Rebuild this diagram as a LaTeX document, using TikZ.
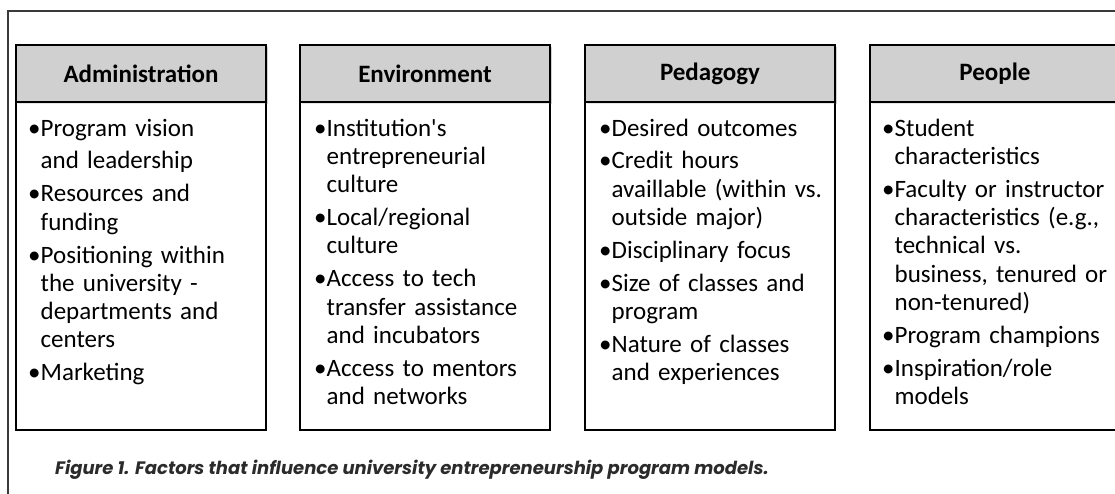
\documentclass[tikz,border=0pt]{standalone}
\usepackage{fontspec}
\setmainfont{Carlito}
\newfontfamily\capfont{Poppins}
\usetikzlibrary{positioning,shadows}

\definecolor{hdrgray}{HTML}{D0D0D0}
\definecolor{capgray}{HTML}{2B2B2B}
\definecolor{framegray}{HTML}{3A3A3A}

% one bullet item, later lines hang under the text
\newlength{\bulw}
\newcommand{\bul}[1]{\par\hangindent=\bulw\hangafter=1\noindent\textbullet#1}
\newcommand{\cont}[1]{\par\noindent\hspace*{\bulw}#1}

\begin{document}
\begin{tikzpicture}[x=1pt,y=1pt,
    hdrbox/.style={draw=black,line width=1.4pt,fill=hdrgray,outer sep=0pt,
        minimum width=250pt,minimum height=57pt,
        font=\fontsize{25}{30}\selectfont\bfseries,
        drop shadow={opacity=0.2,shadow xshift=2pt,shadow yshift=-2pt}},
    bodybox/.style={draw=black,line width=1.4pt,fill=white,outer sep=0pt,
        minimum width=250pt,minimum height=328pt},
    itemtext/.style={text width=234pt,align=left,inner sep=0pt,
        font=\fontsize{25}{28.3}\selectfont,
        execute at begin node={\setlength{\parskip}{4.6pt}\settowidth{\bulw}{\textbullet}}},
    caption/.style={font=\capfont\fontsize{18}{20}\selectfont\bfseries\itshape,
        text=capgray,inner sep=0pt}]
    \useasboundingbox (0,0) rectangle (1115,494);
    \clip (0,0) rectangle (1115,494);
    \fill[white] (0,0) rectangle (1115,494);
    \draw[framegray,line width=1.3pt] (8,-10) -- (8,483) -- (1130,483);

    \foreach \nm/\xx/\ttl in {admin/16/Administration,env/300/Environment,ped/585/Pedagogy,ppl/870/People} {
        \node[hdrbox,anchor=north west] (\nm H) at (\xx,449) {\ttl};
        \node[bodybox,below=0pt of \nm H] (\nm B) {};
        \node[hdrbox,anchor=north west] at (\xx,449) {\ttl};
    }

    \node[itemtext,anchor=north west] (adminT) at ([xshift=12pt,yshift=-1pt]adminB.north west) {%
        \bul{Program vision}
        \cont{and leadership}
        \bul{Resources and\newline funding}
        \bul{Positioning within\newline the university -\newline departments and\newline centers}
        \bul{Marketing}\par};
    \node[itemtext,anchor=north west] (envT) at ([xshift=14pt,yshift=-1pt]envB.north west) {%
        \bul{Institution\textquotesingle s\newline entrepreneurial\newline culture}
        \bul{Local/regional\newline culture}
        \bul{Access to tech\newline transfer assistance\newline and incubators}
        \bul{Access to mentors\newline and networks}\par};
    \node[itemtext,anchor=north west] (pedT) at ([xshift=14pt,yshift=-1pt]pedB.north west) {%
        \bul{Desired outcomes}
        \bul{Credit hours\newline availlable (within vs.\newline outside major)}
        \bul{Disciplinary focus}
        \bul{Size of classes and\newline program}
        \bul{Nature of classes\newline and experiences}\par};
    \node[itemtext,anchor=north west] (pplT) at ([xshift=12pt,yshift=-1pt]pplB.north west) {%
        \bul{Student\newline characteristics}
        \bul{Faculty or instructor\newline characteristics (e.g.,\newline technical vs.\newline business, tenured or\newline non-tenured)}
        \bul{Program champions}
        \bul{Inspiration/role\newline models}\par};

    \node[caption,anchor=base west] (cap) at (55,19)
        {Figure 1. Factors that influence university entrepreneurship program models.};
\end{tikzpicture}
\end{document}
